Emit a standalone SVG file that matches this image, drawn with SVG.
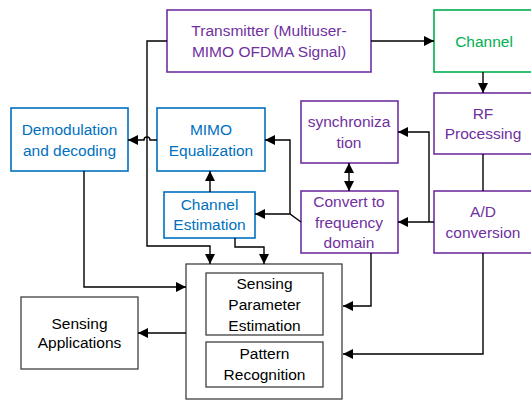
<svg xmlns="http://www.w3.org/2000/svg" width="531" height="401" viewBox="0 0 531 401">
<defs>
<marker id="ah" viewBox="0 0 10 10" refX="10" refY="5" markerWidth="10" markerHeight="10" markerUnits="userSpaceOnUse" orient="auto-start-reverse">
<path d="M0,0 L10,5 L0,10 z" fill="#000"/>
</marker>
<style>
rect{fill:#fff;stroke-width:1.6}
.p rect{stroke:#7030A0}.p text{fill:#7030A0}
.b rect{stroke:#0070C0}.b text{fill:#0070C0}
.g rect{stroke:#00B050}.g text{fill:#00B050}
.k rect{stroke:#404040;stroke-width:1.3}.k text{fill:#000}
text{font-family:"Liberation Sans",Arial,sans-serif;font-size:15.5px;text-anchor:middle}
#conn path{fill:none;stroke:#000;stroke-width:1.4}
</style>
</defs>
<rect x="0" y="0" width="531" height="401" fill="#fff" stroke="none"/>
<g id="transmitter" class="p"><rect x="167" y="10" width="204" height="62"/><text x="269" y="36">Transmitter (Multiuser-</text><text x="269" y="57">MIMO OFDMA Signal)</text></g>
<g id="channel" class="g"><rect x="434" y="10" width="100" height="62"/><text x="484" y="47">Channel</text></g>
<g id="rf" class="p"><rect x="434" y="93" width="100" height="61"/><text x="483" y="119">RF</text><text x="483" y="139">Processing</text></g>
<g id="ad" class="p"><rect x="434" y="191" width="100" height="62"/><text x="483" y="217">A/D</text><text x="483" y="238">conversion</text></g>
<g id="sync" class="p"><rect x="301" y="101" width="97" height="62"/><text x="349" y="127">synchroniza</text><text x="349" y="148">tion</text></g>
<g id="convert" class="p"><rect x="301" y="191" width="97" height="62"/><text x="349" y="207">Convert to</text><text x="349" y="228">frequency</text><text x="349" y="248">domain</text></g>
<g id="mimo" class="b"><rect x="157" y="108" width="108" height="63"/><text x="211" y="135">MIMO</text><text x="211" y="156">Equalization</text></g>
<g id="demod" class="b"><rect x="11" y="108" width="117" height="63"/><text x="69.5" y="135">Demodulation</text><text x="69.5" y="156">and decoding</text></g>
<g id="chest" class="b"><rect x="164" y="192" width="91" height="46"/><text x="209.5" y="210">Channel</text><text x="209.5" y="230">Estimation</text></g>
<g id="sensing" class="k"><rect x="186" y="264" width="156" height="135"/></g>
<g id="spe" class="k"><rect x="206" y="273" width="117" height="62"/><text x="264.5" y="289">Sensing</text><text x="264.5" y="310">Parameter</text><text x="264.5" y="331">Estimation</text></g>
<g id="pattern" class="k"><rect x="206" y="342" width="117" height="45"/><text x="264.5" y="359">Pattern</text><text x="264.5" y="380">Recognition</text></g>
<g id="apps" class="k"><rect x="21" y="297" width="117" height="72"/><text x="79.5" y="329">Sensing</text><text x="79.5" y="348">Applications</text></g>
<g id="conn">
<path d="M371,41 H434" marker-end="url(#ah)"/>
<path d="M483,72 V93" marker-end="url(#ah)"/>
<path d="M483,154 V191"/>
<path d="M483,253 V354 H343" marker-end="url(#ah)"/>
<path d="M434,222 H398" marker-end="url(#ah)"/>
<path d="M429,222 V132 H398" marker-end="url(#ah)"/>
<path d="M349,163 V191" marker-start="url(#ah)" marker-end="url(#ah)"/>
<path d="M301,222 L290,214 H255" marker-end="url(#ah)"/>
<path d="M290,214 V140 H265" marker-end="url(#ah)"/>
<path d="M210,192 V171" marker-end="url(#ah)"/>
<path d="M157,140 H150 A3,3 0 0 0 144,140 H128" marker-end="url(#ah)"/>
<path d="M167,41 H147 V246 H210 V264" marker-end="url(#ah)"/>
<path d="M235,238 V247 H264 V264" marker-end="url(#ah)"/>
<path d="M84,171 V287 H186" marker-end="url(#ah)"/>
<path d="M186,333 H138" marker-end="url(#ah)"/>
<path d="M371,253 V306 H343" marker-end="url(#ah)"/>
</g>
</svg>
